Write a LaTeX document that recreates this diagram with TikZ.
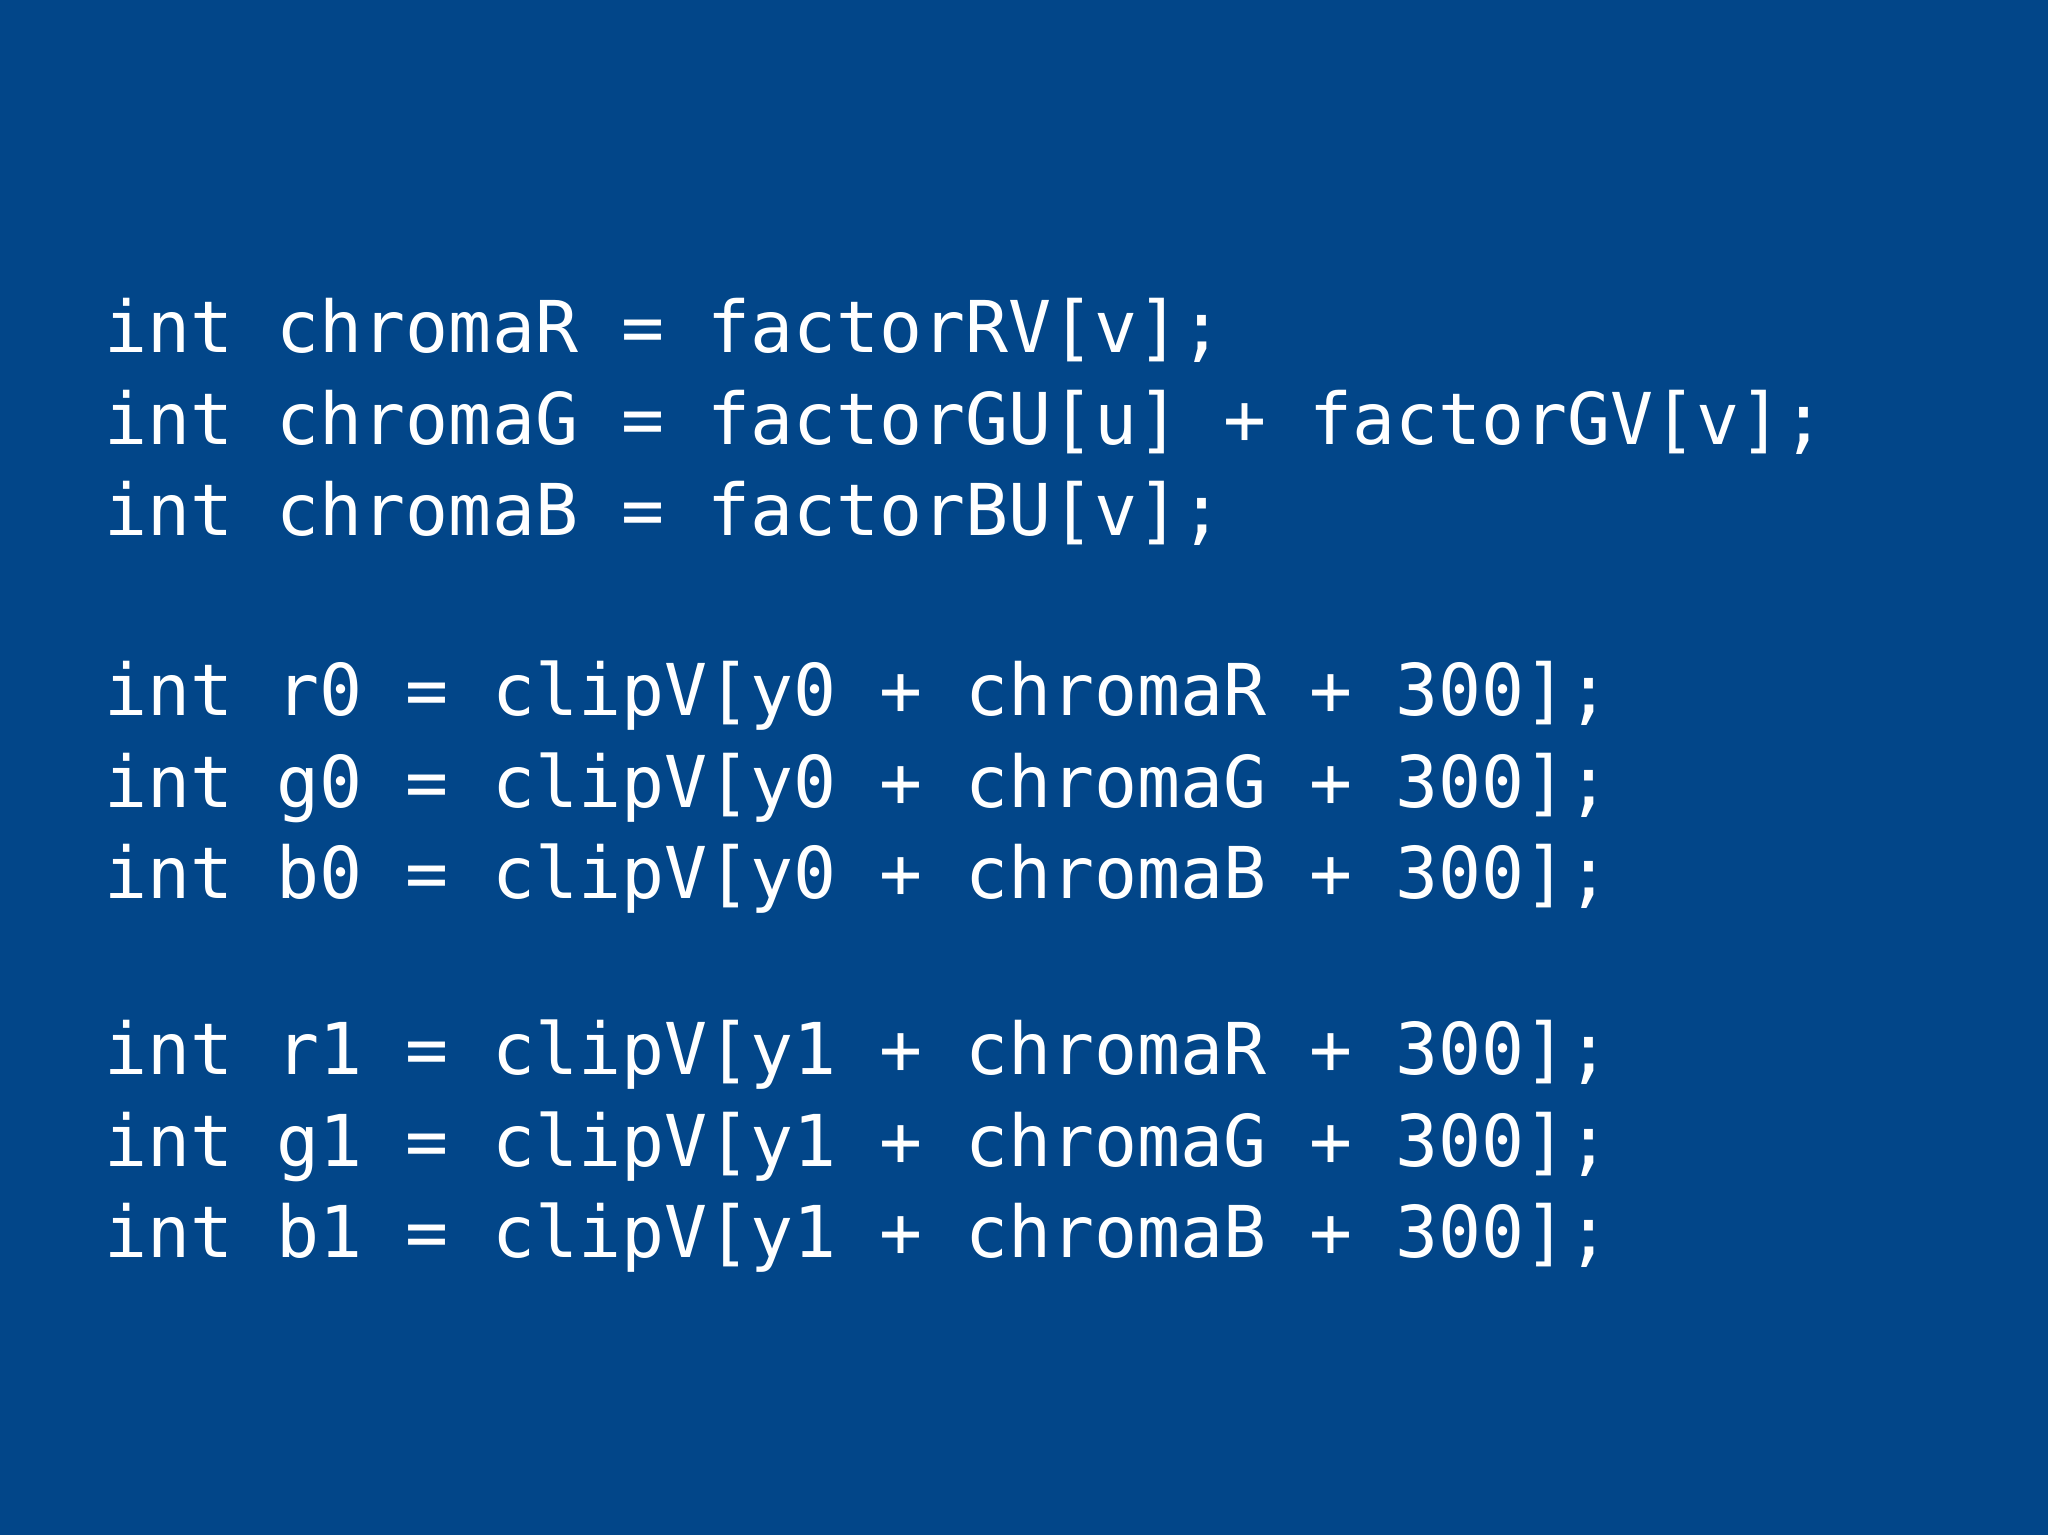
\documentclass[tikz,border=0pt]{standalone}
\usepackage{fontspec}
\setmonofont{DejaVu Sans Mono}
\definecolor{bg}{RGB}{2,70,137}
\begin{document}
\begin{tikzpicture}[x=1pt,y=1pt,
  code/.style={anchor=base west,inner sep=0pt,text=white,font=\fontsize{53.6}{60}\ttfamily}]
\fill[bg] (0,0) rectangle (1536,-1151.25);
\useasboundingbox (0,0) rectangle (1536,-1151.25);
\node[code] (l1) at (78.4,-264.5) {int chromaR = factorRV[v];};
\node[code] (l2) at (78.4,-333) {int chromaG = factorGU[u] + factorGV[v];};
\node[code] (l3) at (78.4,-401.6) {int chromaB = factorBU[v];};
\node[code] (l4) at (78.4,-536.8) {int r0 = clipV[y0 + chromaR + 300];};
\node[code] (l5) at (78.4,-605.4) {int g0 = clipV[y0 + chromaG + 300];};
\node[code] (l6) at (78.4,-674) {int b0 = clipV[y0 + chromaB + 300];};
\node[code] (l7) at (78.4,-806.2) {int r1 = clipV[y1 + chromaR + 300];};
\node[code] (l8) at (78.4,-874.8) {int g1 = clipV[y1 + chromaG + 300];};
\node[code] (l9) at (78.4,-943.4) {int b1 = clipV[y1 + chromaB + 300];};
\end{tikzpicture}
\end{document}
